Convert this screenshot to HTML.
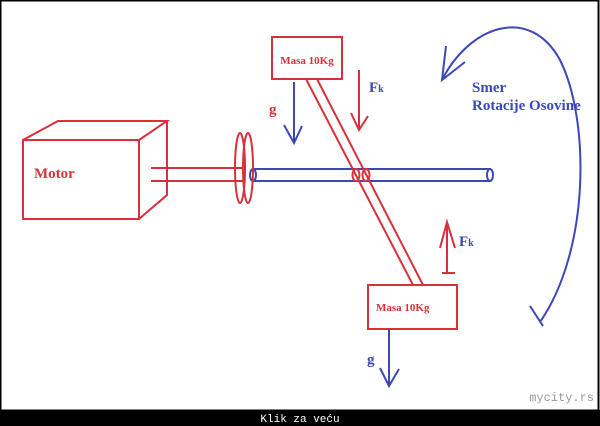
<!DOCTYPE html>
<html><head><meta charset="utf-8"><style>
body{margin:0;background:#fff}
svg{display:block}
.r{stroke:#d8313b;fill:none;stroke-width:2}
.b{stroke:#3b48b6;fill:none;stroke-width:2}
.tr{fill:#d8313b;font-family:"Liberation Serif",serif;font-weight:bold}
.tb{fill:#3b48b6;font-family:"Liberation Serif",serif;font-weight:bold}
</style></head><body>
<svg width="600" height="426" viewBox="0 0 600 426" xmlns="http://www.w3.org/2000/svg">
<rect x="0" y="0" width="600" height="426" fill="#fff"/>
<rect x="0.5" y="0.5" width="598" height="410" fill="none" stroke="#000" stroke-width="2"/>
<rect x="0" y="410" width="600" height="16" fill="#000"/>
<text x="300" y="422" fill="#fff" font-family="Liberation Mono,monospace" font-size="11" text-anchor="middle">Klik za veću</text>
<text x="594" y="401" fill="#999" font-family="Liberation Mono,monospace" font-size="12" text-anchor="end">mycity.rs</text>
<!-- motor -->
<rect class="r" x="23" y="140" width="116" height="79"/>
<polyline class="r" points="23,140 58,121 167,121 139,140"/>
<polyline class="r" points="167,121 167,195 139,219"/>
<text class="tr" x="34" y="178" font-size="15">Motor</text>
<line class="r" x1="151" y1="168" x2="245" y2="168"/>
<line class="r" x1="151" y1="181" x2="245" y2="181"/>
<!-- blue shaft -->
<line class="b" x1="252" y1="169" x2="490" y2="169"/>
<line class="b" x1="252" y1="181" x2="490" y2="181"/>
<ellipse class="b" cx="253" cy="175" rx="3" ry="6"/>
<ellipse class="b" cx="490" cy="175" rx="3" ry="6"/>
<ellipse class="r" cx="240" cy="168" rx="5" ry="35"/>
<ellipse class="r" cx="248" cy="168" rx="5" ry="35"/>
<!-- rod -->
<line class="r" x1="306" y1="79" x2="413" y2="285"/>
<line class="r" x1="317" y1="79" x2="423" y2="285"/>
<ellipse class="r" cx="356" cy="175" rx="3.5" ry="6"/>
<ellipse class="r" cx="366" cy="175" rx="3.5" ry="6"/>
<!-- upper mass -->
<rect class="r" x="272" y="37" width="70" height="42"/>
<text class="tr" x="307" y="64" font-size="11" text-anchor="middle">Masa 10Kg</text>
<polyline class="r" points="359,70 359,130"/>
<polyline class="r" points="351,113 359,130 368,116"/>
<text class="tb" x="369" y="92" font-size="15">F<tspan font-size="10">k</tspan></text>
<line class="b" x1="294" y1="82" x2="294" y2="143"/>
<polyline class="b" points="284,125 294,143 302,126"/>
<text class="tr" x="269" y="114" font-size="15">g</text>
<!-- rotation arc -->
<path class="b" d="M442,80 C470,25 530,5 560,60 C590,120 590,250 540,322"/>
<polyline class="b" points="446,46 442,80 465,62"/>
<line class="b" x1="530" y1="306" x2="543" y2="326"/>
<text class="tb" x="472" y="92" font-size="15">Smer</text>
<text class="tb" x="472" y="110" font-size="15">Rotacije Osovine</text>
<!-- lower Fk -->
<line class="r" x1="447" y1="222" x2="447" y2="273"/>
<polyline class="r" points="440,248 447,222 455,248"/>
<line class="r" x1="442" y1="273" x2="455" y2="273"/>
<text class="tb" x="459" y="246" font-size="15">F<tspan font-size="10">k</tspan></text>
<!-- lower mass -->
<rect class="r" x="368" y="285" width="89" height="44"/>
<text class="tr" x="376" y="311" font-size="11">Masa 10Kg</text>
<line class="b" x1="389" y1="329" x2="389" y2="386"/>
<polyline class="b" points="380,368 389,386 399,369"/>
<text class="tb" x="367" y="364" font-size="15">g</text>
</svg>
</body></html>
